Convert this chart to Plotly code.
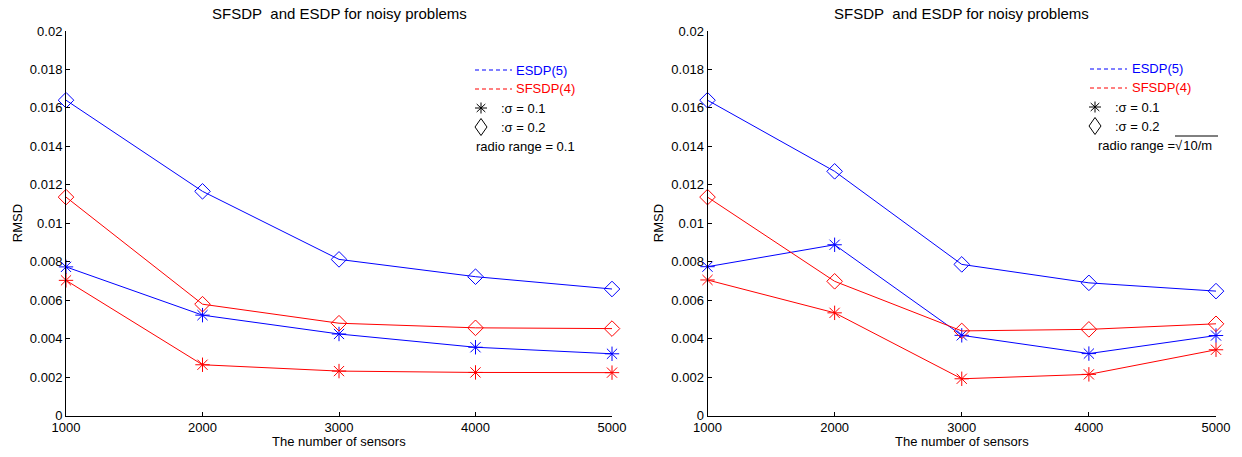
import plotly.graph_objects as go

# ---------------- data ----------------
sensors = [1000, 2000, 3000, 4000, 5000]

# left panel: radio range = 0.1
esdp_s01_left = [0.00773, 0.00522, 0.00424, 0.00355, 0.00321]
esdp_s02_left = [0.01640, 0.01166, 0.00812, 0.00722, 0.00658]
sfsdp_s01_left = [0.00703, 0.00264, 0.00231, 0.00224, 0.00223]
sfsdp_s02_left = [0.01136, 0.00579, 0.00480, 0.00456, 0.00452]

# right panel: radio range = sqrt(10/m)
esdp_s01_right = [0.00774, 0.00888, 0.00417, 0.00322, 0.00416]
esdp_s02_right = [0.01640, 0.01270, 0.00786, 0.00690, 0.00647]
sfsdp_s01_right = [0.00705, 0.00534, 0.00191, 0.00214, 0.00342]
sfsdp_s02_right = [0.01136, 0.00698, 0.00440, 0.00448, 0.00477]

y_ticks = [0, 0.002, 0.004, 0.006, 0.008, 0.01, 0.012, 0.014, 0.016, 0.018, 0.02]
y_tick_labels = ["0", "0.002", "0.004", "0.006", "0.008", "0.01", "0.012",
                 "0.014", "0.016", "0.018", "0.02"]
x_tick_labels = ["1000", "2000", "3000", "4000", "5000"]

title_text = "SFSDP\u00a0 and ESDP for noisy problems"
x_title = "The number of sensors"
y_title = "RMSD"

# ---------------- layout helpers ----------------
W, H = 1242, 457
FONT = "Liberation Sans, Arial, Helvetica, sans-serif"
BLUE = "rgb(0,0,255)"
RED = "rgb(255,0,0)"


def px(x):
    return x / W


def py(y):
    return 1 - y / H


L0, L1 = 66, 612
R0, R1 = 707.5, 1216
TOP, BOT = 31, 415.5

fig = go.Figure()

panels = [
    ("x", "y", esdp_s01_left, esdp_s02_left, sfsdp_s01_left, sfsdp_s02_left),
    ("x2", "y2", esdp_s01_right, esdp_s02_right, sfsdp_s01_right, sfsdp_s02_right),
]

for xa, ya, e1, e2, s1, s2 in panels:
    for vals, color, sym, size in [
        (e2, BLUE, "diamond-open", 12),
        (e1, BLUE, "asterisk-open", 12),
        (s2, RED, "diamond-open", 12),
        (s1, RED, "asterisk-open", 12),
    ]:
        fig.add_trace(go.Scatter(
            x=sensors, y=vals, xaxis=xa, yaxis=ya, mode="lines+markers",
            line=dict(color=color, width=1),
            marker=dict(symbol=sym, size=size, color=color,
                        line=dict(color=color, width=1)),
            cliponaxis=False, showlegend=False,
        ))

axis_common = dict(
    showline=True, linecolor="black", linewidth=1, mirror=False,
    showgrid=False, zeroline=False, ticks="inside", ticklen=4,
    tickcolor="black", tickwidth=1, automargin=False,
    tickfont=dict(family=FONT, size=13, color="black"),
)

fig.update_layout(
    width=W, height=H,
    margin=dict(l=0, r=0, t=0, b=0, autoexpand=False),
    paper_bgcolor="white", plot_bgcolor="white",
    font=dict(family=FONT, size=13, color="black"),
    xaxis=dict(domain=[px(L0), px(L1)], range=[1000, 5000], anchor="y",
               tickvals=sensors, ticktext=x_tick_labels, **axis_common),
    yaxis=dict(domain=[py(BOT), py(TOP)], range=[0, 0.02], anchor="x",
               tickvals=y_ticks, ticktext=y_tick_labels, **axis_common),
    xaxis2=dict(domain=[px(R0), px(R1)], range=[1000, 5000], anchor="y2",
                tickvals=sensors, ticktext=x_tick_labels, **axis_common),
    yaxis2=dict(domain=[py(BOT), py(TOP)], range=[0, 0.02], anchor="x2",
                tickvals=y_ticks, ticktext=y_tick_labels, **axis_common),
    showlegend=False,
)

annotations = []
shapes = []


def text(x, y, s, color="black", xanchor="left", angle=0, size=13):
    annotations.append(dict(
        x=px(x), y=py(y), xref="paper", yref="paper", text=s,
        showarrow=False, xanchor=xanchor, yanchor="middle",
        textangle=angle, font=dict(family=FONT, size=size, color=color),
    ))


# titles, axis titles
for cx, yx in [((L0 + L1) / 2, 17), ((R0 + R1) / 2, 658)]:
    text(cx, 13, title_text, xanchor="center", size=15)
    text(cx, 441, x_title, xanchor="center")
    text(yx, (TOP + BOT) / 2, y_title, xanchor="center", angle=-90)

STAR = ("M-6,0L6,0M0,-5.5L0,5.5M-4.3,-4L4.3,4M-4.3,4L4.3,-4")
DIAM = "M0,-8.5L6,0L0,8.5L-6,0Z"


def legend(x_line0, x_line1, x_text, x_mark, x_mtext, y0, radio_text, x_radio):
    ys = [y0, y0 + 19, y0 + 38, y0 + 57, y0 + 76]
    for yy, color, name in [(ys[0], BLUE, "ESDP(5)"), (ys[1], RED, "SFSDP(4)")]:
        shapes.append(dict(type="line", xref="paper", yref="paper",
                           x0=px(x_line0), x1=px(x_line1), y0=py(yy), y1=py(yy),
                           line=dict(color=color, width=1, dash="4px,3px")))
        text(x_text, yy, name, color=color)
    for yy, path, label in [(ys[2], STAR, ":\u03c3 = 0.1"), (ys[3], DIAM, ":\u03c3 = 0.2")]:
        shapes.append(dict(type="path", xref="paper", yref="paper",
                           xsizemode="pixel", ysizemode="pixel",
                           xanchor=px(x_mark), yanchor=py(yy), path=path,
                           line=dict(color="black", width=1)))
        text(x_mtext, yy, label)
    text(x_radio, ys[4], radio_text)


legend(475, 512, 514, 481, 499, 70, "radio range = 0.1", 474)
legend(1090, 1127, 1130, 1095, 1113, 69, "radio range =\u221a\u200a10/m", 1096)
# overline of the square root
shapes.append(dict(type="line", xref="paper", yref="paper",
                   x0=px(1175), x1=px(1218), y0=py(136), y1=py(136),
                   line=dict(color="black", width=1)))

fig.update_layout(annotations=annotations, shapes=shapes)

fig.write_html("out.html", config={"displayModeBar": False},
               post_script="document.body.style.margin='0';"
                           "document.body.style.overflow='hidden';")
